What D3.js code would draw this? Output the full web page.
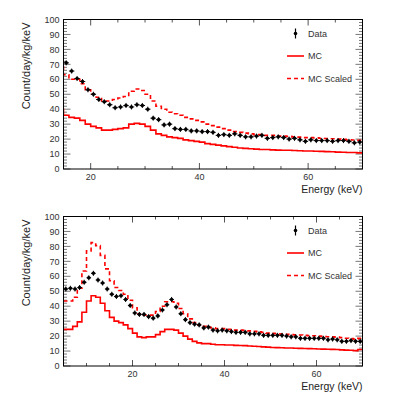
<!DOCTYPE html>
<html>
<head>
<meta charset="utf-8">
<title>Energy spectra</title>
<style>
  body { margin: 0; background: #fff; }
  svg { display: block; font-family: "Liberation Sans", Arial, sans-serif; }
  .tick-label { font-size: 9px; fill: #333; }
  .axis-title { font-size: 11px; fill: #222; }
  .legend-text { font-size: 9px; fill: #333; }
</style>
</head>
<body>
<svg id="chart" width="407" height="395"></svg>
<script src="https://d3js.org/d3.v7.min.js"></script>
<script>
// ---- top panel: 1 keV bins, data starts at 15 keV, MC starts at 14 keV
var topDataStart = 15;
var topData = [71, 65.5, 60.5, 58.5, 53, 50, 46.5, 45, 43, 41,
  41.5, 42.5, 41.5, 43, 42.5, 40, 34, 33, 29.5, 30,
  27, 26.5, 26.5, 25.5, 25.5, 25, 25, 24.5, 22.5, 23,
  22.5, 23.5, 22.5, 21.5, 21.5, 22, 22.5, 20.5, 21, 21.5,
  21, 20, 20.5, 19.5, 18.5, 19.5, 19, 19, 19, 18.5,
  19, 19, 18.5, 17.5, 18];
var topMCStart = 14;
var topMC = [40, 36, 34.5, 34, 32.5, 30, 28.5, 27.5, 26, 26, 26.5,
  27, 27.5, 30, 30.5, 30, 28.5, 26, 23.5, 22.5, 21.5,
  21, 20.5, 19.5, 19, 18.5, 18, 17, 16.5, 16, 15.5,
  15, 14.5, 14, 13.8, 13.5, 13.3, 13, 13, 12.8, 12.6,
  12.5, 12.5, 12.4, 12.2, 12, 12, 11.9, 11.8, 11.6, 11.5,
  11.3, 11.2, 11, 11, 10.8];
var topMCScaled = [70, 63, 60, 60, 57, 53, 50, 48, 45.5, 45.5, 46.5,
  47.5, 48.5, 52, 53.5, 52.5, 50, 45.5, 42, 40, 38,
  37, 36, 34.5, 33.5, 32.5, 31.5, 30, 29, 28, 27,
  26, 25, 24.5, 24, 23.5, 23, 23, 22.5, 22.5, 22,
  22, 21.8, 21.5, 21.3, 21, 21, 20.8, 20.6, 20.4, 20.2,
  20, 19.8, 19.5, 19.4, 19.2];

// ---- bottom panel: 1 keV bins from 5 keV
var botStart = 5;
var botData = [51.5, 52, 51.5, 52.5, 56, 59, 62, 57.5, 55.5, 51.5,
  48, 46.5, 47, 44.5, 40.5, 35.5, 34.5, 34.5, 33, 32,
  33.5, 37.5, 41, 44.5, 39.5, 35, 31, 29, 28, 27.5,
  25.5, 26, 24, 23.5, 24, 23.5, 23, 22.5, 22.5, 22.5,
  21.5, 21.5, 21.5, 20.5, 20.5, 20.5, 20.5, 20.5, 20, 19.5,
  19.5, 18.5, 18.5, 18.5, 18.5, 18.5, 18.5, 17.5, 18, 17.5,
  16.5, 16.5, 17, 16.5, 16.5];
var botMC = [24.5, 24.5, 26.5, 29.5, 36, 43.5, 47, 46, 42, 37,
  32.5, 30, 29, 27.5, 25, 22, 19.5, 19, 19.5, 19.5,
  21, 23, 24.5, 24.5, 24, 22, 20, 18, 16.5, 15.5,
  15, 15, 14.5, 14.2, 14.2, 14, 14, 13.8, 13.7, 13.6,
  13.4, 13.2, 13, 12.8, 12.6, 12.4, 12.3, 12.2, 12, 12,
  11.9, 11.8, 11.7, 11.6, 11.5, 11.4, 11.3, 11.2, 11.1, 11,
  10.8, 10.6, 10.5, 10.3, 11];
var botMCScaled = [43.5, 43.5, 46, 52, 63.5, 77, 82.5, 80.5, 74, 65,
  57, 52.5, 50.5, 48, 44, 39, 35, 34, 34, 34,
  36.5, 40, 43, 43, 42, 38.5, 35, 31.5, 29, 27.5,
  26.5, 26, 25.5, 25, 25, 24.5, 24.5, 24, 24, 23.8,
  23.5, 23.2, 22.8, 22.5, 22, 21.8, 21.6, 21.4, 21.2, 21,
  20.8, 20.7, 20.5, 20.3, 20.2, 20, 19.8, 19.6, 19.5, 19.3,
  19, 18.6, 18.4, 18, 18.5];

var yTicks = [0, 10, 20, 30, 40, 50, 60, 70, 80, 90, 100];
var xTicks = [20, 40, 60];
var legendLabels = ["Data", "MC", "MC Scaled"];

var svg = d3.select("#chart");
var red = "#ff0000";

function drawPanel(opt) {
  var left = 63.5, right = 362.5;
  var x = d3.scaleLinear().domain(opt.xDomain).range([left, right]);
  var y = d3.scaleLinear().domain([0, 100]).range([opt.bottom, opt.top]);
  var g = svg.append("g");

  var clipId = "clip" + opt.id;
  svg.append("clipPath").attr("id", clipId)
    .append("rect")
    .attr("x", left).attr("y", opt.top)
    .attr("width", right - left).attr("height", opt.bottom - opt.top);

  // ticks, all four sides
  var tickColor = "#555";
  var xMinor = d3.range(Math.ceil(opt.xDomain[0] / 5) * 5, opt.xDomain[1] + 0.01, 5);
  xMinor.forEach(function (v) {
    var major = v % 20 === 0;
    var len = major ? 6 : 3;
    g.append("line").attr("x1", x(v)).attr("x2", x(v))
      .attr("y1", opt.bottom).attr("y2", opt.bottom - len)
      .attr("stroke", tickColor).attr("stroke-width", 1);
    g.append("line").attr("x1", x(v)).attr("x2", x(v))
      .attr("y1", opt.top).attr("y2", opt.top + len)
      .attr("stroke", tickColor).attr("stroke-width", 1);
  });
  d3.range(0, 100.01, 2).forEach(function (v) {
    var major = v % 10 === 0;
    var len = major ? 7 : 3.5;
    g.append("line").attr("x1", left).attr("x2", left + len)
      .attr("y1", y(v)).attr("y2", y(v))
      .attr("stroke", tickColor).attr("stroke-width", 0.8);
    g.append("line").attr("x1", right).attr("x2", right - len)
      .attr("y1", y(v)).attr("y2", y(v))
      .attr("stroke", tickColor).attr("stroke-width", 0.8);
  });

  // tick labels
  g.selectAll(".ylab").data(yTicks).enter().append("text")
    .attr("class", "tick-label")
    .attr("x", left - 4).attr("y", function (d) { return y(d); })
    .attr("dy", "0.35em").attr("text-anchor", "end")
    .text(function (d) { return d; });
  g.selectAll(".xlab").data(xTicks).enter().append("text")
    .attr("class", "tick-label")
    .attr("x", function (d) { return x(d); }).attr("y", opt.bottom + 11)
    .attr("text-anchor", "middle")
    .text(function (d) { return d; });

  // axis titles
  g.append("text").attr("class", "axis-title")
    .attr("transform", "translate(30," + (opt.top + 3) + ") rotate(-90)")
    .attr("text-anchor", "end")
    .text("Count/day/kg/keV");
  g.append("text").attr("class", "axis-title")
    .attr("x", right).attr("y", opt.bottom + 23.5)
    .attr("text-anchor", "end")
    .style("font-size", "10.5px")
    .text("Energy (keV)");

  // histograms
  function histPoints(start, vals) {
    var pts = vals.map(function (v, i) { return [start + i, v]; });
    pts.push([start + vals.length, vals[vals.length - 1]]);
    return pts;
  }
  var line = d3.line()
    .x(function (d) { return x(d[0]); })
    .y(function (d) { return y(d[1]); })
    .curve(d3.curveStepAfter);
  var plot = g.append("g").attr("clip-path", "url(#" + clipId + ")");

  plot.append("path").datum(histPoints(opt.mcStart, opt.mc))
    .attr("d", line).attr("fill", "none")
    .attr("stroke", red).attr("stroke-width", 1.6);
  plot.append("path").datum(histPoints(opt.mcStart, opt.mcScaled))
    .attr("d", line).attr("fill", "none")
    .attr("stroke", red).attr("stroke-width", 1.6)
    .attr("stroke-dasharray", "4,3");

  // data points with error bars
  var pts = plot.selectAll(".pt").data(opt.data).enter().append("g");
  pts.append("line")
    .attr("x1", function (d, i) { return x(opt.dataStart + i); })
    .attr("x2", function (d, i) { return x(opt.dataStart + i + 1); })
    .attr("y1", function (d) { return y(d); })
    .attr("y2", function (d) { return y(d); })
    .attr("stroke", "#000").attr("stroke-width", 1);
  pts.append("line")
    .attr("x1", function (d, i) { return x(opt.dataStart + i + 0.5); })
    .attr("x2", function (d, i) { return x(opt.dataStart + i + 0.5); })
    .attr("y1", function (d) { return y(d) - 2.5; })
    .attr("y2", function (d) { return y(d) + 2.5; })
    .attr("stroke", "#000").attr("stroke-width", 1);
  pts.append("circle")
    .attr("cx", function (d, i) { return x(opt.dataStart + i + 0.5); })
    .attr("cy", function (d) { return y(d); })
    .attr("r", 1.8).attr("fill", "#000");

  // frame
  g.append("rect").attr("x", left).attr("y", opt.top)
    .attr("width", right - left).attr("height", opt.bottom - opt.top)
    .attr("fill", "none").attr("stroke", "#000").attr("stroke-width", 1);

  // legend
  var lx = 287, tx = 308;
  var ly = [opt.top + 14, opt.top + 36.5, opt.top + 59];
  g.append("line").attr("x1", 295.5).attr("x2", 295.5)
    .attr("y1", ly[0] - 5).attr("y2", ly[0] + 5)
    .attr("stroke", "#000").attr("stroke-width", 1.2);
  g.append("circle").attr("cx", 295.5).attr("cy", ly[0]).attr("r", 1.8).attr("fill", "#000");
  g.append("line").attr("x1", lx).attr("x2", lx + 17)
    .attr("y1", ly[1]).attr("y2", ly[1])
    .attr("stroke", red).attr("stroke-width", 1.6);
  g.append("line").attr("x1", lx).attr("x2", lx + 17)
    .attr("y1", ly[2]).attr("y2", ly[2])
    .attr("stroke", red).attr("stroke-width", 1.6)
    .attr("stroke-dasharray", "4,3");
  g.selectAll(".leg").data(legendLabels).enter().append("text")
    .attr("class", "legend-text")
    .attr("x", tx).attr("y", function (d, i) { return ly[i]; })
    .attr("dy", "0.35em")
    .text(function (d) { return d; });
}

drawPanel({ id: 1, xDomain: [15, 70], top: 19.5, bottom: 169,
  dataStart: topDataStart, data: topData,
  mcStart: topMCStart, mc: topMC, mcScaled: topMCScaled });
drawPanel({ id: 2, xDomain: [5, 70], top: 216.5, bottom: 366,
  dataStart: botStart, data: botData,
  mcStart: botStart, mc: botMC, mcScaled: botMCScaled });
</script>
</body>
</html>
